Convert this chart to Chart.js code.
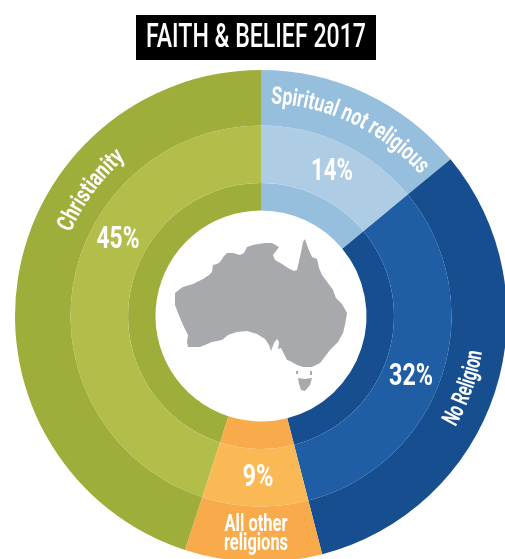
<!DOCTYPE html>
<html>
<head>
<meta charset="utf-8">
<title>Faith &amp; Belief 2017</title>
<script src="https://cdn.jsdelivr.net/npm/chart.js@4"></script>
<style>
  html, body { margin: 0; padding: 0; width: 505px; height: 559px; overflow: hidden; background: #fff; }
  canvas { display: block; }
</style>
</head>
<body>
<canvas id="chart" width="522" height="632"></canvas>
<script>
const titleText = 'FAITH & BELIEF 2017';
const categories = ['Spiritual not religious', 'No Religion', 'All other religions', 'Christianity'];
const shares = [14, 32, 9, 45];
const ringColours = ['#96BEDD', '#174E8F', '#F9AB4C', '#9FAD3A'];
const bandColours = ['#AECDE4', '#1F5EA5', '#FBB956', '#B3BD4A'];
const ringWeights = [55.5, 57.5, 27.5];

// Mainland, Tasmania and Bass Strait island outlines, in page pixels.
const mainland = [[175,293],[180,289],[183,287],[193,284],[203,279],[209,275],[212,272],[213,265],[217,264],[220,262],[224,256],[227,253],[233,253],[240,255],[244,253],[247,247],[253,245],[258,244],[265,243],[272,243],[279,247],[273,255],[275,260],[282,264],[288,268],[294,271],[297,270],[300,257],[303,242],[305,239],[308,248],[312,257],[317,259],[319,268],[322,275],[328,283],[333,290],[336,298],[342,304],[347,313],[345,325],[343,333],[338,342],[330,350],[320,363],[312,367],[303,367],[297,365],[290,361],[287,360],[283,352],[281,348],[278,349],[279,342],[277,339],[274,343],[271,351],[269,345],[265,339],[257,334],[247,331],[237,332],[228,335],[222,340],[212,342],[200,347],[188,347],[187,342],[188,335],[183,325],[178,313],[175,305]];
const tasmania = [[298,378],[305,379],[312,378],[310,385],[305,391],[301,390],[299,384]];
const strait = [[296,371],[298,371],[298,374],[296,374]];
const flinders = [[310,371],[312,371],[312,375],[310,375]];

// Placement of the wording on the rings. Angles run clockwise from twelve o'clock.
const curvedLabels = [
  { index: 0, angle: 25.5, radius: 213, span: 170, size: 24, clockwise: true },
  { index: 3, angle: 306.5, radius: 208, span: 93, size: 24, clockwise: true },
  { index: 1, angle: 109.5, radius: 224, span: 80, size: 24, clockwise: false }
];
const percentLabels = [
  { index: 0, x: 332, y: 172, width: 42 },
  { index: 1, x: 411, y: 377, width: 44 },
  { index: 2, x: 258, y: 478, width: 31 },
  { index: 3, x: 118, y: 240, width: 43 }
];
const FACE = '"Liberation Sans Narrow", "Roboto", sans-serif';

function drawFitted(ctx, text, x, y, width, font) {
  ctx.save();
  ctx.font = font;
  ctx.textAlign = 'center';
  ctx.textBaseline = 'middle';
  const scale = width / ctx.measureText(text).width;
  ctx.translate(x, y);
  ctx.scale(scale, 1);
  ctx.fillText(text, 0, 0);
  ctx.restore();
}

function drawOnArc(ctx, cx, cy, text, spec) {
  ctx.save();
  ctx.font = 'bold ' + spec.size + 'px ' + FACE;
  ctx.textAlign = 'left';
  ctx.textBaseline = 'alphabetic';
  const natural = ctx.measureText(text).width;
  const scale = spec.span / natural;
  const sign = spec.clockwise ? 1 : -1;
  let run = -spec.span / 2;
  for (let i = 0; i < text.length; i++) {
    const advance = (ctx.measureText(text.slice(0, i + 1)).width - ctx.measureText(text.slice(0, i)).width) * scale;
    const theta = spec.angle * Math.PI / 180 + sign * (run + advance / 2) / spec.radius;
    ctx.save();
    ctx.translate(cx + spec.radius * Math.sin(theta), cy - spec.radius * Math.cos(theta));
    ctx.rotate(spec.clockwise ? theta : theta + Math.PI);
    ctx.scale(scale, 1);
    ctx.fillText(text[i], -advance / scale / 2, 0);
    ctx.restore();
    run += advance;
  }
  ctx.restore();
}

function fillPolygon(ctx, points) {
  ctx.beginPath();
  points.forEach(([x, y], i) => (i ? ctx.lineTo(x, y) : ctx.moveTo(x, y)));
  ctx.closePath();
  ctx.fill();
}

const decorations = {
  id: 'decorations',
  afterDraw(chart) {
    const ctx = chart.ctx;
    const arc = chart.getDatasetMeta(0).data[0];
    const cx = arc.x, cy = arc.y;

    ctx.save();
    // Title plate
    ctx.fillStyle = '#000';
    ctx.fillRect(136, 15, 240, 45);
    ctx.fillStyle = '#fff';
    drawFitted(ctx, titleText, 256, 38.5, 220, '500 34px ' + FACE);

    // Australia
    ctx.fillStyle = '#A7A9AC';
    [mainland, tasmania, strait, flinders].forEach(shape => fillPolygon(ctx, shape));

    // Ring wording
    ctx.fillStyle = '#fff';
    curvedLabels.forEach(spec => drawOnArc(ctx, cx, cy, categories[spec.index], spec));
    percentLabels.forEach(p => {
      drawFitted(ctx, shares[p.index] + '%', p.x, p.y, p.width, 'bold 32px ' + FACE);
    });
    drawFitted(ctx, 'All other', 256, 525, 63, 'bold 24px ' + FACE);
    drawFitted(ctx, 'religions', 256, 544, 64, 'bold 24px ' + FACE);
    ctx.restore();
  }
};

new Chart(document.getElementById('chart'), {
  type: 'doughnut',
  data: {
    labels: categories,
    datasets: ringWeights.map((weight, i) => ({
      data: shares,
      weight,
      backgroundColor: i === 1 ? bandColours : ringColours,
      borderWidth: 0
    }))
  },
  options: {
    responsive: false,
    animation: false,
    cutout: 105.5,
    layout: { padding: { left: 15, right: 15, top: 70, bottom: 70 } },
    plugins: { legend: { display: false }, tooltip: { enabled: false }, title: { display: false } }
  },
  plugins: [decorations]
});
</script>
</body>
</html>
